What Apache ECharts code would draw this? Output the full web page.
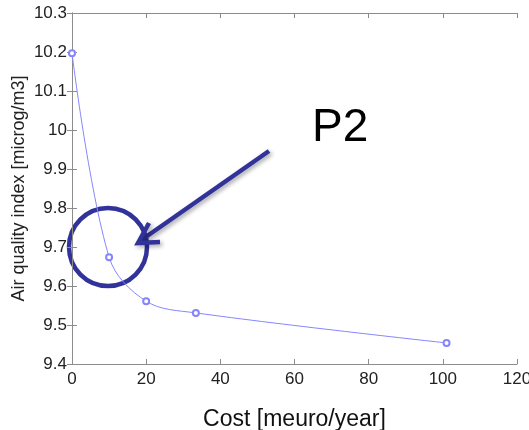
<!DOCTYPE html>
<html>
<head>
<meta charset="utf-8">
<script src="https://cdn.jsdelivr.net/npm/echarts@6/dist/echarts.min.js"></script>
<style>
  html, body { margin: 0; padding: 0; background: #fff; }
  #chart { width: 529px; height: 430px; }
</style>
</head>
<body>
<div id="chart"></div>
<script>
// cost vs air quality points
const costs = [0, 10, 20, 33.4, 101];
const airQuality = [10.197, 9.674, 9.561, 9.531, 9.454];

const xTicks = { min: 0, max: 120, interval: 20 };
const yTicks = { min: 9.4, max: 10.3, interval: 0.1 };

const lineColor = "#8585ff";
const markColor = "#31329a";
const axisColor = "#8c8c8c";

const chart = echarts.init(document.getElementById("chart"));

const baseAxis = {
  axisLine: { show: true, lineStyle: { color: axisColor, width: 1 } },
  axisTick: { show: true, inside: true, length: 5, lineStyle: { color: axisColor } },
  splitLine: { show: false },
};

chart.setOption({
  animation: false,
  grid: { left: 72, right: 12, top: 13, bottom: 66, outerBoundsMode: "none" },
  xAxis: [
    {
      ...baseAxis,
      type: "value",
      ...xTicks,
      name: "Cost [meuro/year]",
      nameLocation: "middle",
      nameGap: 44,
      nameTextStyle: { fontFamily: "Liberation Sans", fontSize: 23, color: "#111" },
      axisLabel: { fontFamily: "Liberation Sans", fontSize: 17, color: "#222", margin: 7 },
    },
    {
      ...baseAxis,
      type: "value",
      position: "top",
      ...xTicks,
      axisLabel: { show: false },
    },
  ],
  yAxis: [
    {
      ...baseAxis,
      type: "value",
      ...yTicks,
      name: "Air quality index [microg/m3]",
      nameLocation: "middle",
      nameGap: 44,
      nameMoveOverlap: false,
      nameTextStyle: { fontFamily: "Liberation Sans", fontSize: 18, color: "#222" },
      axisLabel: { fontFamily: "Liberation Sans", fontSize: 17, color: "#222", margin: 5 },
    },
    {
      ...baseAxis,
      type: "value",
      position: "right",
      ...yTicks,
      axisLabel: { show: false },
    },
  ],
  series: [
    {
      type: "line",
      data: costs.map((c, i) => [c, airQuality[i]]),
      smooth: 0.35,
      symbol: "emptyCircle",
      symbolSize: 6,
      lineStyle: { color: lineColor, width: 1 },
      itemStyle: { color: lineColor, borderWidth: 1 },
    },
  ],
  graphic: [
    {
      type: "circle",
      shape: { cx: 108, cy: 247, r: 39 },
      style: { fill: null, stroke: markColor, lineWidth: 4.5 },
    },
    {
      type: "line",
      shape: { x1: 269, y1: 151, x2: 140, y2: 241 },
      style: {
        stroke: markColor, lineWidth: 4.5,
        shadowBlur: 4, shadowColor: "rgba(0,0,0,0.35)", shadowOffsetX: 2, shadowOffsetY: 2,
      },
    },
    {
      type: "polyline",
      shape: { points: [[149, 223], [138, 243], [160, 242]] },
      style: {
        fill: null, stroke: markColor, lineWidth: 4.5, lineJoin: "miter",
        shadowBlur: 4, shadowColor: "rgba(0,0,0,0.35)", shadowOffsetX: 2, shadowOffsetY: 2,
      },
    },
    {
      type: "text",
      left: 312,
      top: 105,
      style: { text: "P2", fontFamily: "Liberation Sans", fontSize: 46, fill: "#000" },
    },
  ],
});
</script>
</body>
</html>
